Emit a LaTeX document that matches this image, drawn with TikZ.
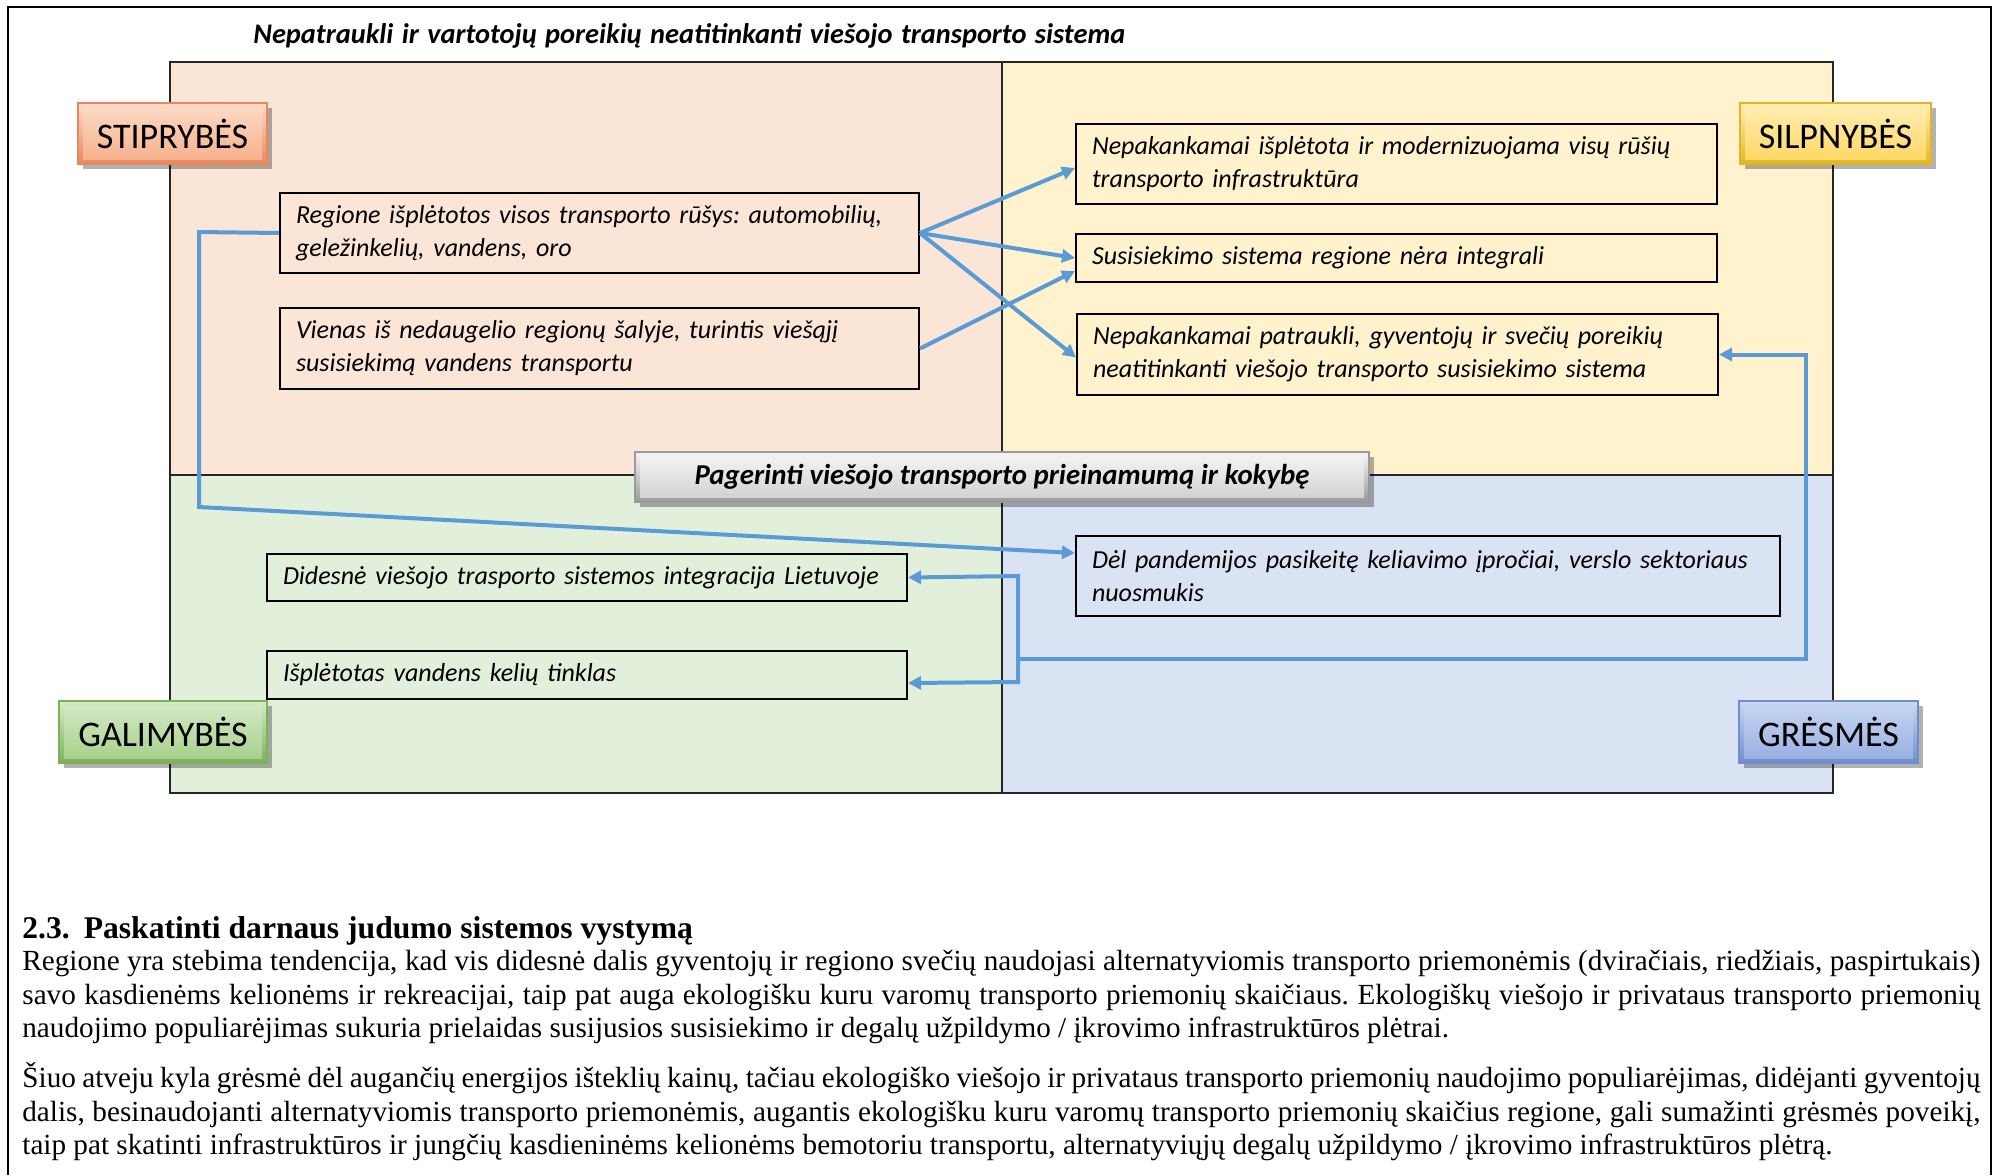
\documentclass[tikz,border=0pt]{standalone}
\usepackage{fontspec}
\setmainfont{Liberation Serif}
\newfontfamily\calfont{Carlito}
\usetikzlibrary{arrows.meta,shadows,calc}
\definecolor{qS}{HTML}{FBE5D6}
\definecolor{qW}{HTML}{FFF2CC}
\definecolor{qO}{HTML}{E2EFDA}
\definecolor{qT}{HTML}{DAE3F3}
\definecolor{arrblue}{HTML}{5B9BD5}
\definecolor{sEdge}{HTML}{E9875C}
\definecolor{sLight}{HTML}{FCDCC8}
\definecolor{sMain}{HTML}{F5AE88}
\definecolor{wEdge}{HTML}{E2B623}
\definecolor{wLight}{HTML}{FFEFB5}
\definecolor{wMain}{HTML}{FFD65E}
\definecolor{oEdge}{HTML}{7DB05A}
\definecolor{oLight}{HTML}{D6EBC8}
\definecolor{oMain}{HTML}{A4CE88}
\definecolor{tEdge}{HTML}{6E8ECC}
\definecolor{tLight}{HTML}{CAD7F2}
\definecolor{tMain}{HTML}{94ADE0}
\definecolor{gEdge}{HTML}{9A9A9A}
\definecolor{gLight}{HTML}{F6F6F6}
\definecolor{gMain}{HTML}{CFCFCF}
\begin{document}
\frenchspacing
\begin{tikzpicture}[x=0.5pt,y=-0.5pt,
  tbox/.style={draw=black, line width=1pt, inner xsep=8pt, inner ysep=0pt, align=left,
    font=\calfont\itshape\fontsize{13}{16.5}\selectfont, anchor=north west},
  lab/.style n args={3}{draw=#1, line width=0.7pt, top color=#2, bottom color=#1, inner sep=0pt,
    drop shadow={shadow xshift=2.5pt, shadow yshift=-2.5pt, opacity=0.3, fill=black},
    path picture={\shade[top color=#2, bottom color=#3]
      ($(path picture bounding box.south west)+(5,-5)$) rectangle
      ($(path picture bounding box.north east)+(-5,5)$);},
    font=\calfont\fontsize{18}{20}\selectfont},
  arr/.style={-{Triangle[length=6.5pt,width=6.5pt]}, line width=2pt, draw=arrblue, line join=miter},
  arrboth/.style={{Triangle[length=6.5pt,width=6.5pt]}-{Triangle[length=6.5pt,width=6.5pt]}, line width=2pt, draw=arrblue},
  body/.style={inner sep=0pt, anchor=base west, font=\fontsize{14.6}{16}\selectfont}
]
\useasboundingbox (0,0) rectangle (1993,1175);
% outer frame
\draw[line width=1pt] (8,1175) -- (8,7) -- (1991,7) -- (1991,1175);
% title
\node[font=\calfont\bfseries\itshape\fontsize{14.2}{16}\selectfont, anchor=base west, inner sep=0pt] (title) at (253,43)
  {\makebox[436pt][s]{Nepatraukli ir vartotojų poreikių neatitinkanti viešojo transporto sistema}};
% quadrants
\fill[qS] (170,62) rectangle (1002,475);
\fill[qW] (1002,62) rectangle (1833,475);
\fill[qO] (170,475) rectangle (1002,793);
\fill[qT] (1002,475) rectangle (1833,793);
\draw[line width=1pt, black!85] (170,62) rectangle (1833,793);
\draw[line width=1pt, black!85] (1002,62) -- (1002,793);
\draw[line width=1pt, black!85] (170,475) -- (1833,475);
% text boxes
\node[tbox, fill=qS, text width=303.5pt, minimum height=40pt] (S1) at (279,192)
  {Regione išplėtotos visos transporto rūšys: automobilių,\\ geležinkelių, vandens, oro};
\node[tbox, fill=qS, text width=303.5pt, minimum height=40.5pt] (S2) at (279,307)
  {Vienas iš nedaugelio regionų šalyje, turintis viešąjį\\ susisiekimą vandens transportu};
\node[tbox, fill=qW, text width=304.5pt, minimum height=40pt] (W1) at (1075,123)
  {Nepakankamai išplėtota ir modernizuojama visų rūšių\\ transporto infrastruktūra};
\node[tbox, fill=qW, text width=304.5pt, minimum height=24pt] (W2) at (1075,233)
  {Susisiekimo sistema regione nėra integrali};
\node[tbox, fill=qW, text width=304.5pt, minimum height=40.5pt] (W3) at (1076,313)
  {Nepakankamai patraukli, gyventojų ir svečių poreikių\\ neatitinkanti viešojo transporto susisiekimo sistema};
\node[tbox, fill=qO, text width=304pt, minimum height=23.5pt] (O1) at (266,553)
  {Didesnė viešojo trasporto sistemos integracija Lietuvoje};
\node[tbox, fill=qO, text width=304pt, minimum height=24pt] (O2) at (266,650)
  {Išplėtotas vandens kelių tinklas};
\node[tbox, fill=qT, text width=336pt, minimum height=40pt] (T1) at (1075,535)
  {Dėl pandemijos pasikeitę keliavimo įpročiai, verslo sektoriaus\\ nuosmukis};
% connectors
\draw[arr] (S1.east) -- ($(W1.west)+(0,4)$);
\draw[arr] (S1.east) -- (W2.west);
\draw[arr] (S1.east) -- ($(W3.west)+(0,3)$);
\draw[arr] (S2.east) -- ($(W2.west)+(0,13)$);
\coordinate (a1) at (199,232);
\coordinate (a2) at (199,507);
\draw[arr] (S1.west) -- (a1) -- (a2) -- ($(T1.west)+(0,-23)$);
\coordinate (r0) at (1018,659);
\coordinate (r1) at (1806,659);
\coordinate (j1) at (1018,576);
\coordinate (j2) at (1018,682);
\draw[arr] (r0) -- (r1) |- (W3.east);
\draw[arrboth] (O1.east) -- (j1) -- (j2) -- ($(O2.east)+(0,8)$);
% labels
\node[lab={sEdge}{sLight}{sMain}, minimum width=94.5pt, minimum height=30.5pt] (LS) at (172.5,133.5) {STIPRYBĖS};
\node[lab={wEdge}{wLight}{wMain}, minimum width=95.5pt, minimum height=30.5pt] (LW) at (1835.5,133.5) {SILPNYBĖS};
\node[lab={oEdge}{oLight}{oMain}, minimum width=104pt, minimum height=31pt] (LO) at (163,732) {GALIMYBĖS};
\node[lab={tEdge}{tLight}{tMain}, minimum width=89.5pt, minimum height=31pt] (LT) at (1828.5,732) {GRĖSMĖS};
\node[lab={gEdge}{gLight}{gMain}, minimum width=367pt, minimum height=25pt,
  font=\calfont\bfseries\itshape\fontsize{14.4}{16}\selectfont] (goal) at (1002,477)
  {Pagerinti viešojo transporto prieinamumą ir kokybę};
% body text
\node[body, font=\bfseries\fontsize{15.8}{17}\selectfont] (head) at (22,938)
  {2.3.\hspace{7pt}Paskatinti darnaus judumo sistemos vystymą};
\node[body] (b1) at (22,970) {\makebox[979pt][s]{Regione yra stebima tendencija, kad vis didesnė dalis gyventojų ir regiono svečių naudojasi alternatyviomis transporto priemonėmis (dviračiais, riedžiais, paspirtukais)}};
\node[body] (b2) at (22,1004) {\makebox[979pt][s]{savo kasdienėms kelionėms ir rekreacijai, taip pat auga ekologišku kuru varomų transporto priemonių skaičiaus. Ekologiškų viešojo ir privataus transporto priemonių}};
\node[body] (b3) at (22,1037) {naudojimo populiarėjimas sukuria prielaidas susijusios susisiekimo ir degalų užpildymo / įkrovimo infrastruktūros plėtrai.};
\node[body] (b4) at (22,1087) {\makebox[979pt][s]{Šiuo atveju kyla grėsmė dėl augančių energijos išteklių kainų, tačiau ekologiško viešojo ir privataus transporto priemonių naudojimo populiarėjimas, didėjanti gyventojų}};
\node[body] (b5) at (22,1121) {\makebox[979pt][s]{dalis, besinaudojanti alternatyviomis transporto priemonėmis, augantis ekologišku kuru varomų transporto priemonių skaičius regione, gali sumažinti grėsmės poveikį,}};
\node[body] (b6) at (22,1154) {taip pat skatinti infrastruktūros ir jungčių kasdieninėms kelionėms bemotoriu transportu, alternatyviųjų degalų užpildymo / įkrovimo infrastruktūros plėtrą.};
\end{tikzpicture}
\end{document}
